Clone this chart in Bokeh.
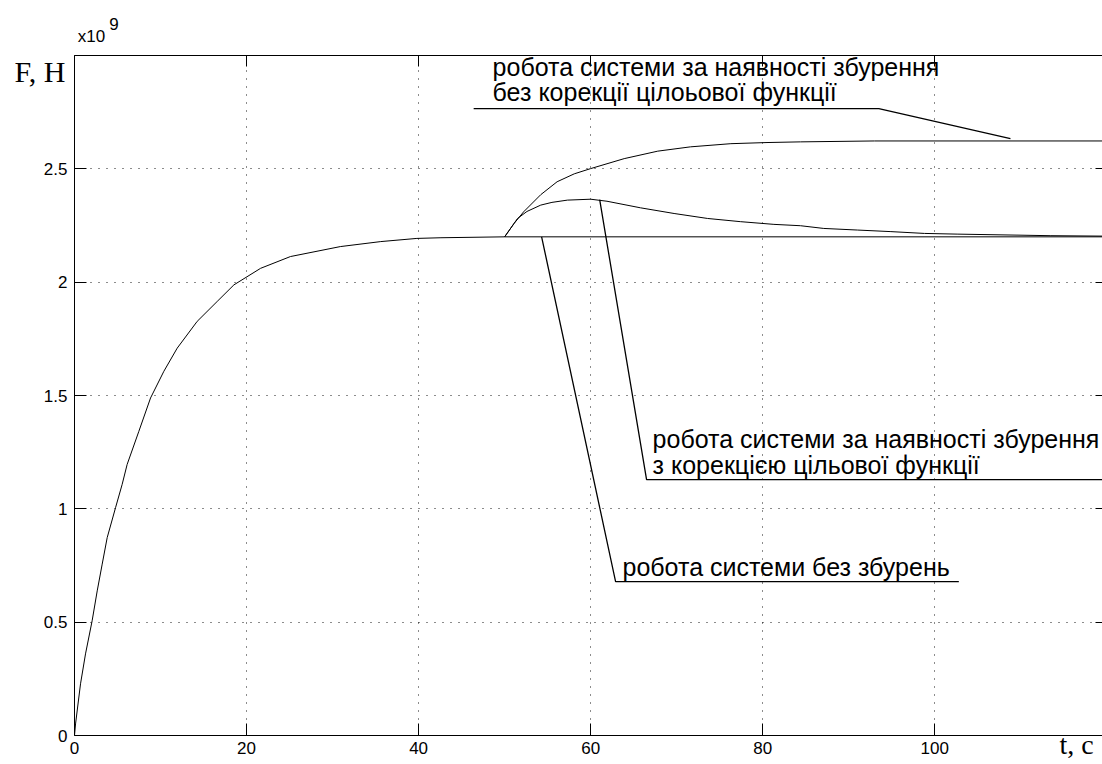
from bokeh.plotting import figure
from bokeh.models import Range1d, FixedTicker, LinearAxis, Label
from bokeh.embed import file_html
from bokeh.resources import INLINE

# ---------------- data (force in units of 1e9 N, time in s) ----------------
t_base = [0, 0.12, 0.7, 1.28, 2.05, 2.64, 3.22, 3.8, 4.77, 5.54, 6.12, 7.48, 8.84,
          10.39, 11.94, 14.26, 16.59, 18.53, 21.63, 25.1, 30.9, 35.6, 39.8, 42.6,
          50, 120]
f_base = [0, 0.051, 0.228, 0.36, 0.506, 0.638, 0.756, 0.873, 1.005, 1.108, 1.196,
          1.342, 1.489, 1.607, 1.709, 1.827, 1.915, 1.988, 2.061, 2.113, 2.157,
          2.179, 2.193, 2.196, 2.2, 2.2]

t_nocorr = [50, 51.1, 52.2, 54.2, 56.1, 58.1, 60, 63.9, 67.8, 71.6, 76.3, 80.5,
            84.4, 93, 120]
f_nocorr = [2.2, 2.259, 2.31, 2.386, 2.443, 2.478, 2.501, 2.545, 2.578, 2.597,
            2.611, 2.616, 2.619, 2.623, 2.623]

t_corr = [50, 51.5, 52.6, 54.2, 55.5, 57.3, 60, 61.9, 65.8, 69.7, 73.6, 77.4, 81.3,
          84.4, 87.1, 91, 94.9, 98.8, 102.6, 113.5, 120]
f_corr = [2.2, 2.281, 2.312, 2.34, 2.352, 2.362, 2.366, 2.357, 2.328, 2.303, 2.281,
          2.267, 2.255, 2.249, 2.237, 2.23, 2.223, 2.215, 2.212, 2.205, 2.203]

x_ticks = [0, 20, 40, 60, 80, 100, 120]
y_ticks = [0, 0.5, 1, 1.5, 2, 2.5, 3]
y_tick_labels = ["0", "0.5", "1", "1.5", "2", "2.5", ""]

x_title = "t, c"
y_title = "F, H"
exp_base, exp_power = "x10", "9"

ann1_text = ["робота системи за наявності збурення", "без корекції цілоьової функції"]
ann2_text = ["робота системи за наявності збурення", "з корекцією цільової функції"]
ann3_text = ["робота системи без збурень"]

# annotation leader lines (data coordinates)
ann1_lx, ann1_ly = [46.4, 93.5, 108.8], [2.766, 2.766, 2.633]
ann2_lx, ann2_ly = [61.05, 66.5, 121], [2.364, 1.129, 1.129]
ann3_lx, ann3_ly = [54.3, 62.9, 102.8], [2.2, 0.679, 0.679]

# ---------------- figure ----------------
p = figure(width=1102, height=764, output_backend="svg", toolbar_location=None,
           x_range=Range1d(0, 119.5), y_range=Range1d(0, 3))
p.min_border_left = 74
p.min_border_right = 0
p.min_border_top = 55
p.min_border_bottom = 29
p.outline_line_color = None
p.background_fill_color = "white"
p.border_fill_color = "white"

TICK_FONT = "Liberation Sans"

for ax in (p.xaxis[0], p.yaxis[0]):
    ax.major_tick_in = 12
    ax.major_tick_out = 0
    ax.minor_tick_line_color = None
    ax.axis_line_color = "black"
    ax.major_tick_line_color = "black"
    ax.major_label_text_font = TICK_FONT
    ax.major_label_text_font_size = "17px"
    ax.major_label_text_color = "black"

p.xaxis[0].ticker = FixedTicker(ticks=x_ticks)
p.yaxis[0].ticker = FixedTicker(ticks=y_ticks)
p.yaxis[0].major_label_overrides = {k: v for k, v in zip(y_ticks, y_tick_labels)}
p.xaxis[0].major_label_standoff = 6
p.yaxis[0].major_label_standoff = 7


def text_axis(ticker_pos, text, font, size, standoff):
    """An axis used only to carry one text outside the plot frame."""
    return LinearAxis(ticker=FixedTicker(ticks=[ticker_pos]),
                      major_label_overrides={ticker_pos: text},
                      major_label_text_font=font, major_label_text_font_size=size,
                      major_label_text_color="black", major_label_standoff=standoff,
                      major_tick_line_color=None, minor_tick_line_color=None,
                      axis_line_color=None, major_tick_in=0, major_tick_out=0)


# top frame side with inward ticks (no labels)
top = LinearAxis(ticker=FixedTicker(ticks=x_ticks), major_tick_in=11, major_tick_out=0,
                 minor_tick_line_color=None, major_label_text_font_size="1px",
                 major_label_text_color=None,
                 major_label_overrides={t: "" for t in x_ticks},
                 major_label_standoff=0, axis_line_color="black")
p.add_layout(top, "above")
# exponent "x10^9" above the frame
p.add_layout(text_axis(1.98, exp_base, TICK_FONT, "17px", 10), "above")
p.add_layout(text_axis(4.6, exp_power, TICK_FONT, "17px", -6), "above")

# right frame side: ticks only
right = LinearAxis(ticker=FixedTicker(ticks=y_ticks), major_tick_in=7, major_tick_out=0,
                   minor_tick_line_color=None, major_label_text_font_size="1px",
                   major_label_text_color=None,
                   major_label_overrides={t: "" for t in y_ticks},
                   major_label_standoff=0, axis_line_alpha=0)
p.add_layout(right, "right")

# axis titles, carried by extra axes
p.add_layout(text_axis(2.929, y_title, "Liberation Serif", "30px", -25), "left")
p.add_layout(text_axis(116.5, x_title, "Liberation Serif", "28px", -28), "below")

for g in (p.xgrid[0], p.ygrid[0]):
    g.grid_line_color = "black"
    g.grid_line_dash = "1 7"
    g.grid_line_width = 1
    g.grid_line_alpha = 0.9
p.xgrid[0].ticker = FixedTicker(ticks=x_ticks)
p.ygrid[0].ticker = FixedTicker(ticks=y_ticks)

# curves
p.line(t_base, f_base, line_color="black", line_width=1)
p.line(t_nocorr, f_nocorr, line_color="black", line_width=1)
p.line(t_corr, f_corr, line_color="black", line_width=1)

# leader lines
for lx, ly in ((ann1_lx, ann1_ly), (ann2_lx, ann2_ly), (ann3_lx, ann3_ly)):
    p.line(lx, ly, line_color="black", line_width=1.3)

TXT = dict(text_font=TICK_FONT, text_font_size="25px", text_color="black",
           text_baseline="middle", text_align="left")
p.add_layout(Label(x=48.6, y=2.951, text=ann1_text[0], **TXT))
p.add_layout(Label(x=48.6, y=2.838, text=ann1_text[1], **TXT))
p.add_layout(Label(x=67.2, y=1.310, text=ann2_text[0], **TXT))
p.add_layout(Label(x=67.2, y=1.192, text=ann2_text[1], **TXT))
p.add_layout(Label(x=63.7, y=0.745, text=ann3_text[0], **TXT))

open("out.html", "w").write(file_html(p, INLINE))
